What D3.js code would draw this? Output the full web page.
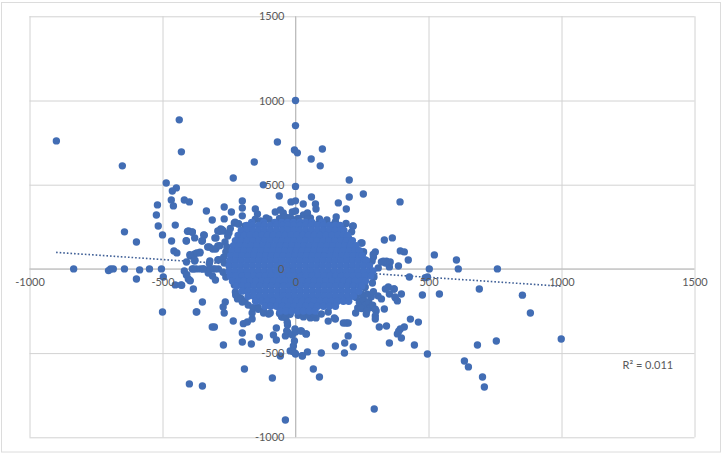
<!DOCTYPE html>
<html><head><meta charset="utf-8">
<script src="https://cdnjs.cloudflare.com/ajax/libs/d3/7.8.5/d3.min.js"></script>
<style>
html,body{margin:0;padding:0;background:#fff}
svg{display:block}
text{font-family:Lato,"Open Sans",sans-serif;font-size:11px;fill:#595959}
</style></head><body><div id="chart"></div>
<script>
const xTicks=[-1000,-500,0,500,1000,1500];
const yTicks=[-1000,-500,0,500,1000,1500];
const trendX=[-900,1000];
const trendY=[98,-103];
const rSquaredLabel="R² = 0.011";
const sparsePoints=[
[-899,760],[-651,612],[-437,885],[-429,695],[-486,510],[-448,481],[-463,463],[-234,540],[-155,635],[-68,754],[0,1000],[0,851],[-4,706],[7,689],[101,712],[59,653],[93,612],[202,528],[-121,499],[0,490],
[-61,433],[-17,398],[0,404],[29,385],[60,427],[75,385],[77,356],[161,392],[202,427],[255,445],[191,356],[153,308],[393,398],[-519,380],[-523,320],[-516,255],[-452,260],[-467,409],[-459,374],[-418,409],[-399,398],[-335,344],[-313,290],[-268,368],[-268,297],[-241,338],[-200,403],[-200,362],[-200,315],[-151,356],[-143,326],[-151,295],[-132,285],[-110,303],[-76,338],[-57,350],[-46,332],[-12,338],[0,344],[30,320],[45,332],[56,303],[90,297],[217,255],[-230,273],[-215,267],[-190,255],[-177,250],[-281,237],[-80,273],[-36,303],[-21,283],[-8,292],[11,269],[26,273],[80,263],[111,269],[136,260],[93,273],
[-643,220],[-598,160],[-500,202],[-466,166],[-410,166],[-402,225],[-388,220],[-379,184],[-345,202],[-352,166],[-457,107],[-446,95],[-410,41],[-396,77],[-379,89],[-360,95],[-330,130],[-311,118],[-292,136],[-303,184],[-292,225],[-272,225],[-322,47],[-292,53],[-379,47],[-834,0],[-703,-10],[-695,0],[-685,0],[-643,0],[-586,-6],[-549,0],[-504,0],[-497,-48],[-598,-60],[-452,-95],[-430,-95],[-418,-12],[-410,-36],[-403,-60],[-396,-71],[-384,-119],[-350,-197],[-500,-256],[-373,-256],[-388,0],[-373,0],[-358,0],[-346,0],[-324,0],[-309,0],[-290,0],[-328,-24],[-312,-42],[-301,-66],[-264,-197],[-272,-226],[-268,-262],[-234,-309],[-305,-345],[-313,-345],[-271,-452],[-200,-381],[-200,-434],[-166,-446],[-136,-404],[-83,-392],[-72,-422],[-72,-351],[-192,-594],[-87,-648],[-399,-683],[-350,-695],[-38,-897],[-57,-517],[-20,-487],[0,-505],[26,-517],[45,-493],[97,-499],[150,-458],[184,-499],[217,-463],[198,-398],[67,-594],[90,-642],[-8,-458],[-4,-428],[-12,-392],[-38,-398],[-27,-381],[0,-375],[22,-369],[41,-386],[-30,-333],[-50,-286],[-36,-290],[-196,-325],[-181,-315],[-163,-297],[-163,-262],[-183,-130],[-200,-197],[-218,-178],[-226,-137],[-230,-95],[-142,-226],[-120,-262],[-101,-268],[56,-291],[97,-268],[123,-256],[123,-310],[150,-298],[190,-321],[198,-321],[226,-262],[234,-232],[242,-191],
[334,172],[364,184],[394,107],[409,101],[300,101],[424,53],[522,83],[605,53],[612,0],[759,0],[503,0],[428,-48],[488,-52],[496,-48],[691,-119],[853,-156],[883,-262],[999,-416],[755,-428],[684,-452],[496,-505],[635,-547],[650,-582],[703,-642],[710,-701],[296,-832],[432,-298],[462,-316],[477,-155],[541,-149],[447,-452],[353,-440],[315,-345],[342,-339],[409,-345],[394,-357],[383,-386],[398,-410],[388,-370],[300,-280],[300,-298],[334,-238],[266,-268],[303,-250],[323,-178],[383,-190],[375,-172],[398,-149],[353,-149],[371,-119],[349,-107],[338,-119],[387,17],[353,12],[311,6],[356,41],[323,41],[338,35],[342,45],[293,71],[288,47],[292,86],[256,101],[250,154],[263,53],[295,-48],[289,-84],[260,-111],
[148,213],[215,253],[211,220],[199,184],[167,178],[246,154],[255,101],[330,45],[262,-107],[370,-119],[374,-166],[-428,-97],[-409,-34],[-397,-68],[-384,0],[-371,95],[-359,99],[-397,85],[-378,51],[-406,223],[-388,218],[-411,167],[-343,200],[-350,167],[-324,130],[-300,118],[-285,138],[-299,184],[-285,223],[-276,233],[-227,277],[-214,268],[-371,-255],[-324,32],[-289,55],[-347,0],[-302,0],[-321,0],[185,-440],[180,-321],[146,-291],[77,-291],[-52,-284],[-31,-317],[-33,-368],[-2,-357],[19,-368],[39,-386],[-10,-490],[-2,-500],[25,-515],
[228,-170],[240,-200],[255,-180],[262,-215],[275,-195],[280,-230],[248,-235],[268,-250],[290,-215],[300,-240],[285,-165],[270,-150],[250,-150],[293,-135],[310,-160],
[-265,160],[-258,130],[-262,100],[-270,70],[-255,195],[-250,215],[-245,240],[-268,35],[-272,-20],[-262,-48],[-225,-155],[-215,-165],[-205,-175],[-190,-190],[-178,-215],[-160,-230],[-140,-240],[-120,-250],[-95,-262],
[-100,295],[-60,300],[-40,310],[-20,305],[10,300],[45,296],[118,290],[150,280],[175,248],[190,270],
[-40,-280],[-20,-270],[10,-275],[30,-285],[50,-270],[70,-270],[-60,-265]
];
const coreRows=[
[276,[-165,-120,-78,-52,-30,-8,16,38,62,100]],
[258,[-183,-161,-138,-117,-95,-72,-50,-28,-6,16,38,60,83,105,127,150,168]],
[228,[-204,-182,-160,-138,-116,-94,-72,-50,-28,-6,16,38,60,82,104,126,148,170,182]],
[198,[-216,-193,-171,-149,-127,-105,-83,-61,-39,-17,5,27,49,71,93,115,137,159,181,196]],
[168,[-226,-204,-182,-160,-138,-116,-94,-72,-50,-28,-6,16,38,60,82,104,126,148,170,192,214]],
[138,[-233,-211,-189,-167,-145,-123,-101,-79,-57,-35,-13,9,31,53,75,97,119,141,163,185,207,228]],
[108,[-238,-216,-194,-172,-150,-128,-106,-84,-62,-40,-18,4,26,48,70,92,114,136,158,180,202,224,240]],
[78,[-244,-222,-200,-178,-156,-134,-112,-90,-68,-46,-24,-2,20,42,64,86,108,130,152,174,196,218,240,251]],
[48,[-247,-225,-203,-181,-159,-137,-115,-93,-71,-49,-27,-5,17,39,61,83,105,127,149,171,193,215,237,259,266]],
[18,[-250,-228,-206,-184,-162,-140,-118,-96,-74,-52,-30,-8,14,36,58,80,102,124,146,168,190,212,234,256,278]],
[-12,[-249,-227,-205,-183,-161,-139,-117,-95,-73,-51,-29,-7,15,37,59,81,103,125,147,169,191,213,235,257,279,291]],
[-42,[-245,-223,-201,-179,-157,-135,-113,-91,-69,-47,-25,-3,19,41,63,85,107,129,151,173,195,217,239,261,283]],
[-72,[-237,-215,-193,-171,-149,-127,-105,-83,-61,-39,-17,5,27,49,71,93,115,137,159,181,203,225,247,263]],
[-102,[-222,-200,-178,-156,-134,-112,-90,-68,-46,-24,-2,20,42,64,86,108,130,152,174,196,218,240,250]],
[-132,[-201,-179,-157,-135,-113,-91,-69,-47,-25,-3,19,41,63,85,107,129,151,173,195,217,238]],
[-162,[-178,-156,-134,-112,-90,-68,-46,-24,-2,20,42,64,86,108,130,152,174,196,218]],
[-192,[-150,-128,-106,-84,-62,-40,-18,4,26,48,70,92,114,136,158,180,200]],
[-222,[-115,-93,-71,-49,-27,-5,17,39,61,83,105,127,150]],
[-250,[-58,-36,-14,8,30,52,74]]
];
const corePoints=coreRows.flatMap(([v,xs])=>xs.map(u=>[u,v]));
const W=725,H=455,R=3.7;
const x=d3.scaleLinear().domain([-1000,1500]).range([29.5,694.5]);
const y=d3.scaleLinear().domain([-1000,1500]).range([437.3,16.3]);
const svg=d3.select("#chart").append("svg").attr("width",W).attr("height",H);
svg.append("rect").attr("x",1.5).attr("y",2.5).attr("width",719).attr("height",449.5).attr("fill","#fff").attr("stroke","#dcdcdc");
const gx=svg.append("g").attr("transform",`translate(0,${y(-1000)})`).call(d3.axisBottom(x).tickValues(xTicks).tickSize(-(y(-1000)-y(1500))).tickFormat(""));
const gy=svg.append("g").attr("transform",`translate(${x(-1000)},0)`).call(d3.axisLeft(y).tickValues(yTicks).tickSize(-(x(1500)-x(-1000))).tickFormat(""));
[gx,gy].forEach(g=>{g.select(".domain").remove();g.selectAll("line").attr("stroke","#d2d2d2").attr("stroke-width",1);});
svg.append("line").attr("x1",x(-1000)).attr("x2",x(1500)).attr("y1",y(0)).attr("y2",y(0)).attr("stroke","#bdbdbd");
svg.append("line").attr("x1",x(0)).attr("x2",x(0)).attr("y1",y(-1000)).attr("y2",y(1500)).attr("stroke","#bdbdbd");
svg.append("path").datum(trendX.map((v,i)=>[v,trendY[i]]))
 .attr("d",d3.line().x(d=>x(d[0])).y(d=>y(d[1])))
 .attr("fill","none").attr("stroke","#3f5f96").attr("stroke-width",1.6).attr("stroke-dasharray","1.6 2");
svg.append("g").selectAll("circle").data(sparsePoints).join("circle")
 .attr("cx",d=>x(d[0])).attr("cy",d=>y(d[1])).attr("r",R).attr("fill","#426db4");
svg.append("g").selectAll("circle").data(corePoints).join("circle")
 .attr("cx",d=>x(d[0])).attr("cy",d=>y(d[1])).attr("r",R).attr("fill","#4472c4");
const ax=svg.append("g").attr("transform",`translate(0,${y(0)})`).call(d3.axisBottom(x).tickValues(xTicks).tickSize(0).tickPadding(9).tickFormat(String));
const ay=svg.append("g").attr("transform",`translate(${x(0)},0)`).call(d3.axisLeft(y).tickValues(yTicks).tickSize(0).tickPadding(11).tickFormat(String));
[ax,ay].forEach(g=>{g.select(".domain").remove();g.attr("font-family",null).attr("font-size",null);g.selectAll("text").attr("fill",null);});
svg.append("text").attr("x",x(1500)-72).attr("y",y(-500)+15.5).text(rSquaredLabel);
</script></body></html>
